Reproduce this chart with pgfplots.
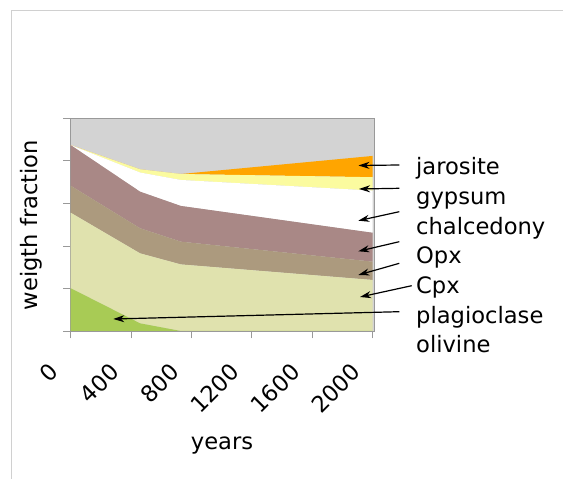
\documentclass[border=0pt]{standalone}
\usepackage{pgfplots}
\pgfplotsset{compat=1.18}
\usepackage{fontspec}
\setmainfont{DejaVu Sans}
\usetikzlibrary{arrows.meta}
\definecolor{bggray}{HTML}{D3D3D3}
\definecolor{jaro}{HTML}{FFA500}
\definecolor{gyps}{HTML}{FBFB9F}
\definecolor{opx}{HTML}{A98886}
\definecolor{cpx}{HTML}{AC9A7E}
\definecolor{plag}{HTML}{E0E2AE}
\definecolor{oliv}{HTML}{A8CB55}
\definecolor{frame}{HTML}{D0D0D0}
\newcommand{\bigf}{\fontsize{22.6bp}{26bp}\selectfont}
\begin{document}
\begin{tikzpicture}[x=1bp,y=1bp]
\path[use as bounding box] (0,0) rectangle (563,479);
\draw[frame, line width=1bp] (11,0) -- (11,468.5) -- (563,468.5);
\begin{axis}[
  at={(70.7bp,148bp)}, anchor=south west,
  scale only axis, width=303.6bp, height=212.7bp,
  xmin=0, xmax=2012, ymin=0, ymax=1,
  stack plots=y,
  axis background/.style={fill=bggray},
  axis line style={draw=gray!80, line width=0.8bp},
  xtick={0,400,800,1200,1600,2000},
  xticklabels={0,400,800,1200,1600,2000},
  ytick={0,0.2,0.4,0.6,0.8,1},
  yticklabels={},
  xtick pos=lower, ytick pos=left,
  tick align=outside, major tick length=7.5bp,
  tick style={draw=gray!80, line width=0.8bp},
  xticklabel style={font=\bigf, xshift=-14bp, yshift=-27bp, rotate=45, anchor=east},
]
\addplot[fill=oliv, draw=none] coordinates {(0,0.201) (460,0.036) (730,0) (2000,0)} \closedcycle;
\addplot[fill=plag, draw=none] coordinates {(0,0.355) (460,0.329) (730,0.313) (2000,0.240)} \closedcycle;
\addplot[fill=cpx, draw=none] coordinates {(0,0.127) (460,0.118) (730,0.107) (2000,0.086)} \closedcycle;
\addplot[fill=opx, draw=none] coordinates {(0,0.191) (460,0.172) (730,0.168) (2000,0.136)} \closedcycle;
\addplot[fill=white, draw=none] coordinates {(0,0) (460,0.090) (730,0.122) (2000,0.198)} \closedcycle;
\addplot[fill=gyps, draw=none] coordinates {(0,0) (460,0.015) (730,0.028) (2000,0.063)} \closedcycle;
\addplot[fill=jaro, draw=none] coordinates {(0,0) (460,0) (730,0) (2000,0.100)} \closedcycle;
\end{axis}
\node[font=\bigf, anchor=base] at (222,479-450) {years};
\node[font=\bigf, rotate=90, anchor=base] at (37,479-225) {weigth fraction};
\foreach \t/\yb in {jarosite/175, gypsum/204.7, chalcedony/234.3, Opx/264, Cpx/293.7, plagioclase/323.3, olivine/353}
  \node[font=\bigf, anchor=base west, inner sep=0] at (416,479-\yb) {\t};
\begin{scope}[line width=1.2bp, -{Stealth[length=11bp,width=7bp,inset=3.5bp]}]
\draw (399.3,479-165) -- (358.5,479-165.5);
\draw (399.3,479-188.3) -- (359,479-189);
\draw (399.3,479-211.7) -- (358.3,479-220.7);
\draw (399.3,479-241.7) -- (358.3,479-251.3);
\draw (399.3,479-263.3) -- (358.3,479-275);
\draw (411.7,479-285.7) -- (360,479-297);
\draw (399.3,479-311.7) -- (113.3,479-319);
\end{scope}
\end{tikzpicture}
\end{document}
